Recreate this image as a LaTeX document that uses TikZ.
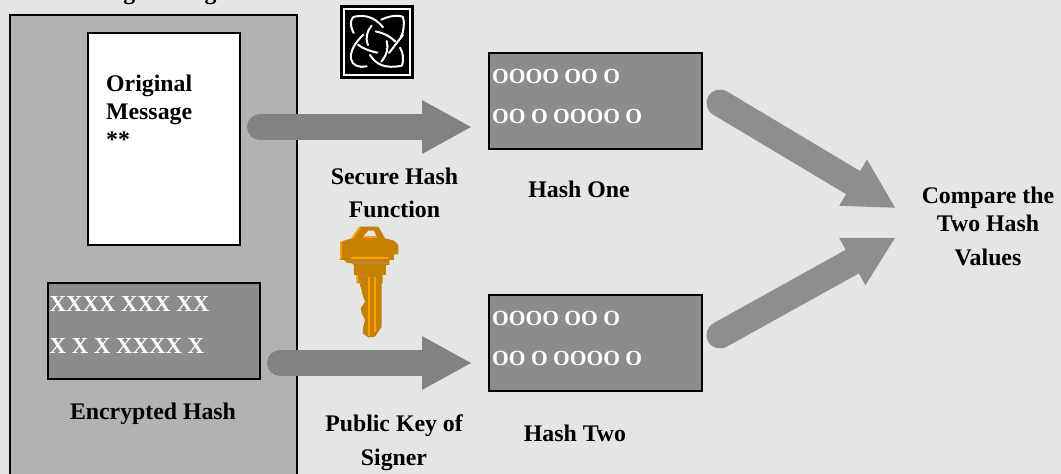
\documentclass[tikz,border=0pt]{standalone}
\usepackage{fontspec}
\setmainfont{Liberation Serif}
\usetikzlibrary{arrows.meta}
\definecolor{pagebg}{HTML}{E5E5E5}
\definecolor{panel}{HTML}{B2B2B2}
\definecolor{hashfill}{HTML}{8C8C8C}
\definecolor{arrowa}{HTML}{828282}
\definecolor{arrowb}{HTML}{8E8E8E}
\definecolor{keybody}{HTML}{C48000}
\definecolor{keylight}{HTML}{FFA000}
\definecolor{keymute}{HTML}{C08448}
\tikzset{
  x=1pt,y=-1pt,
  boxed/.style={draw=black,line width=1.7pt,inner sep=0pt,minimum width=0pt},
  lab/.style={font=\fontsize{23.8}{28}\selectfont\bfseries,text=black,inner sep=0pt,anchor=base,align=center},
  hashtext/.style={font=\fontsize{21.5}{25}\selectfont\bfseries,text=white,inner sep=0pt,anchor=base west},
  crosstext/.style={font=\fontsize{22.8}{25}\selectfont\bfseries,text=white,inner sep=0pt,anchor=base west},
  bigarrow/.style={line width=27pt,line cap=round,-{Triangle[length=50pt,width=50pt]}},
  knotline/.style={draw=white,line width=2pt,line cap=round,line join=round}
}
\begin{document}
\begin{tikzpicture}
\useasboundingbox (0,0) rectangle (1061,474);
\clip (0,0) rectangle (1061,474);
\fill[pagebg] (0,0) rectangle (1061,474);
% panel and boxes
\draw[boxed,fill=panel] (10,15) rectangle (297,490);
\node[boxed,fill=white,minimum width=152pt,minimum height=212pt] (msg) at (164,139) {};
\node[boxed,fill=hashfill,minimum width=212pt,minimum height=96pt] (enc) at (154,331) {};
\node[boxed,fill=hashfill,minimum width=213pt,minimum height=96pt] (h1) at (595.5,101) {};
\node[boxed,fill=hashfill,minimum width=213pt,minimum height=96pt] (h2) at (595.5,343) {};
% texts
\node[lab] (title) at (133,-1) {Incoming Message};
\node[lab,anchor=base west] (t1) at (106,91) {Original};
\node[lab,anchor=base west] (t2) at (106,119) {Message};
\node[lab,anchor=base west] (t3) at (106,147) {**};
\node[crosstext] (x1) at (49.5,311) {XXXX XXX XX};
\node[crosstext] (x2) at (49.5,353) {X X X XXXX X};
\node[lab] (l1) at (153,419) {Encrypted Hash};
\node[hashtext] (a1) at (492,83) {OOOO OO O};
\node[hashtext] (a2) at (492,123) {OO O OOOO O};
\node[hashtext] (b1) at (492,325) {OOOO OO O};
\node[hashtext] (b2) at (492,365) {OO O OOOO O};
\node[lab] (l2) at (394.5,184) {Secure Hash};
\node[lab] (l3) at (394.5,217) {Function};
\node[lab] (l4) at (394,431) {Public Key of};
\node[lab] (l5) at (394,465) {Signer};
\node[lab] (l6) at (579,197) {Hash One};
\node[lab] (l7) at (575,441) {Hash Two};
\node[lab] (c1) at (988,203) {Compare the};
\node[lab] (c2) at (988,231) {Two Hash};
\node[lab] (c3) at (988,265) {Values};
% connectors
\coordinate (s1) at (260,127); \coordinate (e1) at (472,127);
\coordinate (s2) at (280,363); \coordinate (e2) at (472,363);
\coordinate (s3) at (720,103); \coordinate (e3) at (896,208.3);
\coordinate (s4) at (720,335); \coordinate (e4) at (896,237.3);
\draw[bigarrow,draw=arrowa,line width=26pt] (s1) -- (e1);
\draw[bigarrow,draw=arrowa,line width=26pt] (s2) -- (e2);
\draw[bigarrow,draw=arrowb] (s3) -- (e3);
\draw[bigarrow,draw=arrowb] (s4) -- (e4);
% knot icon
\fill[black] (340,5) rectangle (414,79);
\begin{scope}[shift={(338,3)},x=0.3333pt,y=-0.3333pt]
\draw[draw=white,line width=2pt] (19,19) rectangle (216,216);
\draw[knotline] (47,90) .. controls (34,65) and (38,50) .. (46,42) .. controls (70,36) and (105,35) .. (135,73);
\draw[knotline] (130,50) .. controls (150,40) and (180,34) .. (195,42) .. controls (200,60) and (198,85) .. (188,104);
\draw[knotline] (113,85) .. controls (135,90) and (155,98) .. (172,116);
\draw[knotline] (101,68) .. controls (85,88) and (82,105) .. (90,126);
\draw[knotline] (76,95) .. controls (50,120) and (36,145) .. (39,168) .. controls (42,188) and (65,195) .. (86,190);
\draw[knotline] (60,125) .. controls (80,140) and (100,145) .. (118,149);
\draw[knotline] (146,114) .. controls (153,135) and (145,158) .. (130,176);
\draw[knotline] (96,156) .. controls (115,185) and (140,198) .. (192,188) .. controls (198,170) and (196,150) .. (186,134);
\draw[knotline] (195,96) .. controls (180,115) and (165,135) .. (153,150);
\end{scope}
% key icon
\begin{scope}[shift={(320,220)},x=0.3333pt,y=-0.3333pt]
\fill[keybody] (120,20) -- (175,20) -- (195,55) -- (222,62) -- (235,75) -- (235,103) -- (222,103) -- (222,120) -- (208,120) -- (208,135) -- (198,135) -- (198,165) -- (188,165) -- (188,190) -- (185,190) -- (185,320) -- (165,350) -- (145,352) -- (128,340) -- (130,320) -- (135,300) -- (125,280) -- (122,265) -- (135,245) -- (128,225) -- (120,190) -- (110,190) -- (110,165) -- (102,165) -- (102,135) -- (95,130) -- (80,128) -- (72,120) -- (60,120) -- (60,68) -- (72,62) -- (95,55) -- cycle;
\fill[pagebg] (145,32) -- (162,32) -- (170,50) -- (130,50) -- cycle;
\draw[keylight,line width=2pt] (120,22) -- (97,55);
\draw[keylight,line width=2pt] (130,51) -- (172,51);
\draw[keylight,line width=2pt] (62,70) -- (62,118);
\draw[keylight,line width=2pt] (92,114) -- (205,114);
\draw[keymute,line width=2pt] (96,130) -- (208,130);
\draw[keylight,line width=1.7pt] (146,170) -- (146,348);
\draw[keylight,line width=1.7pt] (166,172) -- (166,335);
\draw[keymute,line width=1.5pt] (122,200) -- (122,170) -- (144,170);
\draw[keylight,line width=1.7pt] (110,165) -- (116,188);
\end{scope}
\end{tikzpicture}
\end{document}
